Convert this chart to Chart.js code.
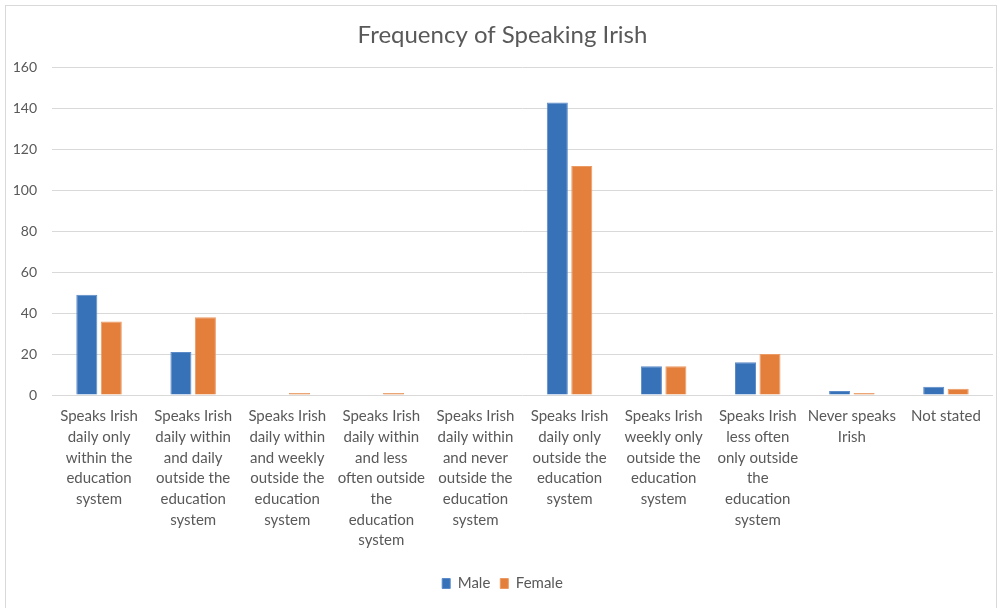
<!DOCTYPE html>
<html>
<head>
<meta charset="utf-8">
<script src="https://cdn.jsdelivr.net/npm/chart.js@4.4.1/dist/chart.umd.min.js"></script>
<style>
  html, body { margin: 0; padding: 0; background: #ffffff; }
  #wrap { position: absolute; left: 5px; top: 5px; width: 992px; height: 610px; border: 1px solid #d9d9d9; box-sizing: border-box; }
  #cv { position: absolute; left: -5px; top: -5px; }
</style>
</head>
<body>
<div id="wrap"><canvas id="cv" width="1003" height="608"></canvas></div>
<script>
const categories = [
  ["Speaks Irish", "daily only", "within the", "education", "system"],
  ["Speaks Irish", "daily within", "and daily", "outside the", "education", "system"],
  ["Speaks Irish", "daily within", "and weekly", "outside the", "education", "system"],
  ["Speaks Irish", "daily within", "and less", "often outside", "the", "education", "system"],
  ["Speaks Irish", "daily within", "and never", "outside the", "education", "system"],
  ["Speaks Irish", "daily only", "outside the", "education", "system"],
  ["Speaks Irish", "weekly only", "outside the", "education", "system"],
  ["Speaks Irish", "less often", "only outside", "the", "education", "system"],
  ["Never speaks", "Irish"],
  ["Not stated"]
];
const seriesNames = ["Male", "Female"];
const maleValues = [49, 21, 0, 0, 0, 143, 14, 16, 2, 4];
const femaleValues = [36, 38, 1, 1, 0, 112, 14, 20, 1, 3];
const yTicks = [0, 20, 40, 60, 80, 100, 120, 140, 160];

const FONT = "Lato, 'Open Sans', sans-serif";
const TXT = "#595959";

new Chart(document.getElementById("cv"), {
  type: "bar",
  data: {
    labels: categories,
    datasets: [
      { label: seriesNames[0], data: maleValues, backgroundColor: "#3771b8", borderColor: "#5b8bc8", borderWidth: 1,
        categoryPercentage: 0.52, barPercentage: 0.86 },
      { label: seriesNames[1], data: femaleValues, backgroundColor: "#e37e3b", borderColor: "#eb9a63", borderWidth: 1,
        categoryPercentage: 0.52, barPercentage: 0.86 }
    ]
  },
  options: {
    responsive: false,
    animation: false,
    layout: { padding: { left: 11, right: 11, top: 14, bottom: 8 } },
    plugins: {
      title: {
        display: true,
        text: "Frequency of Speaking Irish",
        color: TXT,
        font: { family: FONT, size: 24, weight: "normal" },
        padding: { top: 6, bottom: 18 }
      },
      legend: {
        position: "bottom",
        labels: {
          color: TXT,
          font: { family: FONT, size: 15 },
          boxWidth: 8, boxHeight: 10,
          padding: 10
        }
      },
      tooltip: { enabled: false }
    },
    scales: {
      x: {
        grid: { display: false },
        border: { display: false },
        afterFit: (a) => { a.height = 171; },
        ticks: {
          color: TXT,
          font: { family: FONT, size: 15, lineHeight: 1.38 },
          maxRotation: 0, minRotation: 0, autoSkip: false,
          padding: 3
        }
      },
      y: {
        min: 0, max: 160,
        afterBuildTicks: (axis) => { axis.ticks = yTicks.map(v => ({ value: v })); },
        afterFit: (a) => { a.width = 40; },
        grid: { color: "#d9d9d9", lineWidth: 1, drawTicks: false },
        border: { display: false },
        ticks: {
          color: TXT,
          font: { family: FONT, size: 14 },
          padding: 15
        }
      }
    }
  }
});
</script>
</body>
</html>
